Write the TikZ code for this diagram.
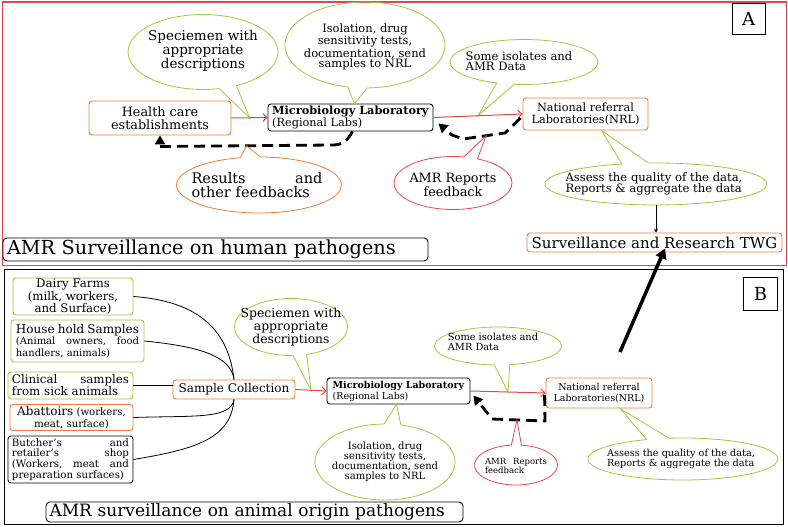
\documentclass[tikz,border=0pt]{standalone}
\usepackage{fontspec}
\setmainfont{DejaVu Serif}
\usetikzlibrary{shapes.callouts,shapes.geometric,arrows.meta,calc}
\definecolor{lgreen}{RGB}{160,200,60}
\definecolor{lorange}{RGB}{237,125,49}
\definecolor{lred}{RGB}{230,70,75}
\newcommand\fsz[2]{\fontsize{#1}{#2}\selectfont}
\newcommand\jfill{\hskip 0pt plus 1filll\relax}
\begin{document}
\begin{tikzpicture}[x=1pt,y=-1pt,
 box/.style={draw, rounded corners=3pt, line width=0.9pt, inner sep=1pt, align=center},
 gbox/.style={box, draw=lgreen},
 obox/.style={box, draw=lorange},
 kbox/.style={box, draw=black},
 callg/.style={ellipse callout, draw=lgreen, line width=0.8pt, inner sep=0pt, callout pointer arc=14},
 callo/.style={callg, draw=lorange},
 callr/.style={callg, draw=lred},
 ctext/.style={inner sep=0pt, align=center},
 redarrow/.style={draw=lred, line width=1pt, -{Straight Barb[length=4pt,width=8pt]}},
 fb/.style={line width=2.8pt, dash pattern=on 11pt off 6pt, -{Triangle[length=9pt,width=10pt]}},
 labbox/.style={draw, line width=0.8pt, inner sep=0pt, font=\fsz{18}{20}},
]
\useasboundingbox (0,0) rectangle (788,527);
% ---------- Panel A ----------
\node[draw=lred, line width=1.3pt, minimum width=784.5pt, minimum height=263.5pt, anchor=north west, inner sep=0pt] (frameA) at (1.5,1.5) {};
\node[labbox, minimum width=33pt, minimum height=31pt] (labA) at (748.5,18.5) {A};
\node[obox, minimum width=142pt, minimum height=34pt, font=\fsz{12.8}{13}] (hce) at (160,118) {Health care\\establishments};
\node[kbox, minimum width=165pt, minimum height=27pt, align=left, font=\fsz{11.3}{11.5}] (mlA) at (350.5,117.5) {\textbf{Microbiology Laboratory}\\(Regional Labs)};
\node[obox, minimum width=125pt, minimum height=32pt, font=\fsz{11.3}{12}] (nrlA) at (585.5,114) {National referral\\Laboratories(NRL)};
\node[obox, minimum width=255pt, minimum height=19pt, font=\fsz{15}{16}] (twg) at (654.5,242.5) {Surveillance and Research TWG};
\node[kbox, rounded corners=4pt, minimum width=425pt, minimum height=23pt, text width=417pt, align=left, font=\fsz{19.3}{20}] (tA) at (215.5,249.5) {AMR Surveillance on human pathogens};

\node[callg, minimum width=150pt, minimum height=75pt, callout absolute pointer={($(hce.east)!0.5!(mlA.west)$)}] (cSA) at (203,52) {};
\node[ctext, font=\fsz{13.5}{12}] at ($(cSA.center)+(0,-1)$) {Speciemen with\\appropriate\\descriptions};
\node[callg, minimum width=160pt, minimum height=86pt, callout absolute pointer={($(mlA.north)+(4,0)$)}] (cIA) at (365,45) {};
\node[ctext, font=\fsz{11.5}{10.5}] at ($(cIA.center)+(0,2)$) {Isolation, drug\\sensitivity tests,\\documentation, send\\samples to NRL};
\node[callg, minimum width=148pt, minimum height=45pt, callout absolute pointer={($(mlA.east)!0.5!(nrlA.west)$)}] (cOA) at (524,62) {};
\node[ctext, align=left, font=\fsz{11.6}{10.5}] at ($(cOA.center)+(-5,-1)$) {Some isolates and\\AMR Data};

\draw[redarrow] (hce.east) -- (mlA.west);
\draw[redarrow] (mlA.east) -- (nrlA.west);

\coordinate (a1) at (333,145);
\coordinate (a2) at (160,146.5);
\draw[fb] ($(mlA.south)+(2,0)$) .. controls +(-5,10) and +(8,0) .. (a1) -- (a2) -- (hce.south);
\coordinate (b1) at (505,133);
\coordinate (b2) at (463,139);
\coordinate (b3) at (452,135);
\draw[fb] ($(nrlA.west)+(-2,4)$) -- (b1) -- (b2) -- (b3) -- ($(mlA.south east)+(5,-8)$);

\node[callr, minimum width=118pt, minimum height=53pt, callout absolute pointer={($(b1)!0.45!(b2)$)}] (cRA) at (453,183) {};
\node[ctext, font=\fsz{12.8}{14}] at ($(cRA.center)+(0,2)$) {AMR Reports\\feedback};
\node[callo, minimum width=165pt, minimum height=56pt, callout absolute pointer={($(a1)!0.5!(a2)$)}] (cFA) at (259,185) {};
\node[ctext, text width=131pt, align=left, font=\fsz{14.5}{14}] at ($(cFA.center)+(-2,0)$) {Results\jfill and\\other feedbacks};
\node[callg, minimum width=222pt, minimum height=42pt, callout absolute pointer={($(nrlA.south)+(16,0)$)}] (cAA) at (656,184) {};
\node[ctext, align=left, font=\fsz{11.6}{11.5}] at ($(cAA.center)+(-2,0)$) {Assess the quality of the data,\\Reports \& aggregate the data};
\draw[line width=0.8pt, -{Stealth[length=4pt,width=4pt]}] (cAA.south) -- (cAA.south |- twg.north);

% ---------- Panel B ----------
\node[draw, line width=1.2pt, minimum width=779.5pt, minimum height=255.5pt, anchor=north west, inner sep=0pt] (frameB) at (3.5,268.5) {};
\node[labbox, minimum width=34pt, minimum height=33pt] (labB) at (760.5,293.5) {B};
\node[gbox, minimum width=120pt, minimum height=37pt, font=\fsz{11.8}{10.8}] (dairy) at (73,296.5) {Dairy Farms\\(milk, workers,\\and Surface)};
\node[gbox, minimum width=133pt, minimum height=42pt, text width=123pt, align=left, font=\fsz{10}{11.5}] (house) at (77.5,341) {{\fsz{12}{12}House\jfill hold\jfill Samples}\\(Animal\jfill owners,\jfill food\\handlers, animals)};
\node[gbox, minimum width=125pt, minimum height=27pt, text width=117pt, align=left, font=\fsz{11.8}{12}] (clin) at (70.5,385.5) {Clinical\jfill samples\\from sick animals};
\node[obox, minimum width=123pt, minimum height=26pt, font=\fsz{10.2}{11.5}] (abat) at (71.5,417.5) {{\fsz{12}{12}Abattoirs} (workers,\\meat, surface)};
\node[kbox, minimum width=125pt, minimum height=47pt, text width=117pt, align=left, font=\fsz{10.2}{10.7}] (butch) at (70.5,459.5) {Butcher's\jfill and\\retailer's\jfill shop\\(Workers,\jfill meat\jfill and\\preparation surfaces)};
\node[obox, minimum width=122pt, minimum height=19pt, font=\fsz{12}{13}] (sc) at (234,389.5) {Sample Collection};
\node[kbox, minimum width=143pt, minimum height=26pt, align=left, font=\fsz{9.5}{11}] (mlB) at (398.5,391) {\textbf{Microbiology Laboratory}\\(Regional Labs)};
\node[obox, minimum width=106pt, minimum height=30pt, font=\fsz{9.5}{11}] (nrlB) at (599,393) {National referral\\Laboratories(NRL)};
\node[kbox, rounded corners=4pt, minimum width=417pt, minimum height=20pt, text width=410pt, align=left, font=\fsz{17}{18}] (tB) at (254.5,512) {AMR surveillance on animal origin pathogens};

\draw[line width=0.8pt] (dairy.east) .. controls +(70,5) and +(-5,-45) .. (sc.north);
\draw[line width=0.8pt] (house.east) .. controls +(50,5) and +(-3,-25) .. (sc.north);
\draw[line width=0.8pt] (clin.east) -- (clin.east -| sc.west);
\draw[line width=0.8pt] (abat.east) .. controls +(60,-2) and +(-3,20) .. (sc.south);
\draw[line width=0.8pt] (butch.east) .. controls +(60,-10) and +(-3,40) .. (sc.south);

\node[callg, minimum width=113pt, minimum height=57pt, callout absolute pointer={($(sc.east)!0.5!(mlB.west)$)}] (cSB) at (291,327) {};
\node[ctext, font=\fsz{12.4}{11}] at (cSB.center) {Speciemen with\\appropriate\\descriptions};
\node[callg, minimum width=140pt, minimum height=76pt, callout absolute pointer={($(mlB.south)+(-2,0)$)}] (cIB) at (385,462) {};
\node[ctext, font=\fsz{10}{10}] at (cIB.center) {Isolation, drug\\sensitivity tests,\\documentation, send\\samples to NRL};
\node[callg, minimum width=127pt, minimum height=38pt, callout absolute pointer={($(mlB.east)!0.5!(nrlB.west)$)}] (cOB) at (498,346) {};
\node[ctext, align=left, font=\fsz{9.8}{10}] at ($(cOB.center)+(-5,-4)$) {Some isolates and\\AMR Data};

\draw[redarrow] (sc.east) -- (mlB.west);
\draw[redarrow] (mlB.east) -- (nrlB.west);

\coordinate (d1) at (545,421);
\coordinate (d2) at (492,419);
\draw[fb] ($(nrlB.west)+(-1,2)$) -- (d1) -- (d2) -- ($(mlB.south east)+(3,-9)$);

\node[callr, minimum width=83pt, minimum height=40pt, callout absolute pointer={($(d1)!0.53!(d2)$)}] (cRB) at (516,465) {};
\node[ctext, text width=62pt, align=left, font=\fsz{8.5}{9.5}] at ($(cRB.center)+(0,1)$) {AMR\jfill Reports\\feedback};
\node[callg, minimum width=190pt, minimum height=42pt, callout absolute pointer={($(nrlB.south)+(21,0)$)}] (cAB) at (683,459) {};
\node[ctext, align=left, font=\fsz{9.7}{9.5}] at ($(cAB.center)+(-2,0)$) {Assess the quality of the data,\\Reports \& aggregate the data};

\coordinate (bigS) at (620,352);
\draw[line width=3.5pt, -{Triangle[length=10pt,width=11pt]}] (bigS) -- ($(twg.south)+(10.5,-4)$);
\end{tikzpicture}
\end{document}
